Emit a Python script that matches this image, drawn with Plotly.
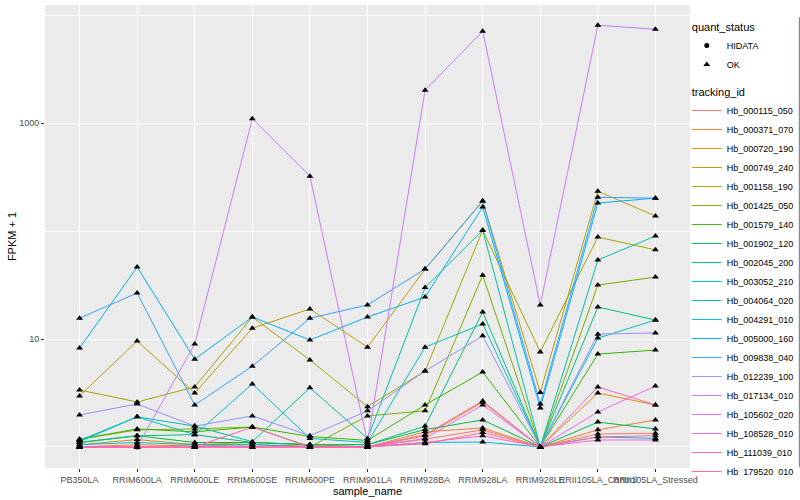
import plotly.graph_objects as go

samples = ["PB350LA", "RRIM600LA", "RRIM600LE", "RRIM600SE", "RRIM600PE", "RRIM901LA",
           "RRIM928BA", "RRIM928LA", "RRIM928LE", "RRII105LA_Control", "RRII105LA_Stressed"]

tracking_ids = ["Hb_000115_050", "Hb_000371_070", "Hb_000720_190", "Hb_000749_240",
                "Hb_001158_190", "Hb_001425_050", "Hb_001579_140", "Hb_001902_120",
                "Hb_002045_200", "Hb_003052_210", "Hb_004064_020", "Hb_004291_010",
                "Hb_005000_160", "Hb_009838_040", "Hb_012239_100", "Hb_017134_010",
                "Hb_105602_020", "Hb_108528_010", "Hb_111039_010", "Hb_179520_010"]

colors = ["#F8766D", "#EA8331", "#D89000", "#C09B00", "#A3A500", "#7CAE00", "#39B600",
          "#00BB4E", "#00BF7D", "#00C1A3", "#00BFC4", "#00BAE0", "#00B0F6", "#35A2FF",
          "#9590FF", "#C77CFF", "#E76BF3", "#FA62DB", "#FF62BC", "#FF6C91"]

# FPKM + 1 per sample (order of samples)
Hb_000115_050 = [1.0, 1.0, 1.0, 1.0, 1.0, 1.0, 1.18, 1.44, 1.0, 1.32, 1.34]
Hb_000371_070 = [1.0, 1.05, 1.02, 1.05, 1.02, 1.0, 1.38, 1.5, 1.0, 1.44, 1.78]
Hb_000720_190 = [1.05, 1.17, 1.05, 1.1, 1.05, 1.0, 1.27, 2.6, 1.0, 3.16, 2.45]
Hb_000749_240 = [2.97, 9.58, 3.16, 12.6, 19.0, 8.4, 44.5, 190, 3.2, 234, 138]
Hb_001158_190 = [3.37, 2.61, 3.6, 16.0, 6.4, 2.36, 5.06, 102, 7.6, 88, 67]
Hb_001425_050 = [1.18, 1.44, 1.47, 1.53, 1.0, 1.94, 2.16, 39, 1.0, 31.6, 37.5]
Hb_001579_140 = [1.18, 1.47, 1.38, 1.53, 1.25, 1.15, 2.45, 4.94, 1.0, 7.26, 7.9]
Hb_001902_120 = [1.1, 1.27, 1.1, 1.1, 1.05, 1.05, 1.45, 1.78, 1.0, 1.70, 1.47]
Hb_002045_200 = [1.1, 1.27, 1.3, 1.1, 1.05, 1.05, 1.56, 17.8, 1.0, 19.8, 15.0]
Hb_003052_210 = [1.15, 1.9, 1.56, 1.12, 3.53, 1.2, 30, 102, 1.0, 54, 90]
Hb_004064_020 = [1.12, 1.9, 1.3, 3.83, 1.2, 1.1, 8.4, 13.8, 1.0, 10.2, 15.0]
Hb_004291_010 = [1.05, 1.1, 1.05, 1.05, 1.0, 1.0, 1.1, 1.11, 1.0, 1.24, 1.2]
Hb_005000_160 = [8.25, 46.4, 6.5, 16.0, 9.8, 16.0, 24.5, 167, 2.3, 182, 202]
Hb_009838_040 = [15.6, 26.7, 2.45, 5.6, 15.6, 20.7, 44.5, 190, 2.5, 206, 202]
Hb_012239_100 = [1.98, 2.5, 1.56, 1.94, 1.27, 2.16, 5.06, 10.7, 1.0, 11.1, 11.4]
Hb_017134_010 = [1.0, 1.0, 9.0, 1100, 323, 1.1, 2020, 7110, 20.7, 8070, 7420]
Hb_105602_020 = [1.0, 1.0, 1.0, 1.0, 1.0, 1.0, 1.2, 2.45, 1.0, 2.11, 3.67]
Hb_108528_010 = [1.0, 1.0, 1.0, 1.0, 1.0, 1.0, 1.1, 1.27, 1.0, 1.16, 1.16]
Hb_111039_010 = [1.0, 1.0, 1.0, 1.53, 1.0, 1.0, 1.3, 2.67, 1.0, 3.6, 2.45]
Hb_179520_010 = [1.0, 1.0, 1.0, 1.0, 1.0, 1.0, 1.07, 1.36, 1.0, 1.24, 1.27]

values = [Hb_000115_050, Hb_000371_070, Hb_000720_190, Hb_000749_240, Hb_001158_190,
          Hb_001425_050, Hb_001579_140, Hb_001902_120, Hb_002045_200, Hb_003052_210,
          Hb_004064_020, Hb_004291_010, Hb_005000_160, Hb_009838_040, Hb_012239_100,
          Hb_017134_010, Hb_105602_020, Hb_108528_010, Hb_111039_010, Hb_179520_010]

# points with quant_status HIDATA (all others OK)
hidata_points = [("Hb_017134_010", "RRIM600LA")]

fig = go.Figure()

for tid, col, vals in zip(tracking_ids, colors, values):
    fig.add_trace(go.Scatter(
        x=samples, y=vals, mode="lines", name=tid,
        line=dict(color=col, width=1),
        legendgroup="tracking_id", legendrank=100,
        legendgrouptitle=dict(text="tracking_id") if tid == tracking_ids[0] else None,
        hoverinfo="skip"))

ok_x, ok_y, hi_x, hi_y = [], [], [], []
for tid, vals in zip(tracking_ids, values):
    for s, v in zip(samples, vals):
        if (tid, s) in hidata_points:
            hi_x.append(s); hi_y.append(v)
        else:
            ok_x.append(s); ok_y.append(v)

fig.add_trace(go.Scatter(
    x=hi_x, y=hi_y, mode="markers", name="HIDATA",
    marker=dict(symbol="circle", color="black", size=5),
    legendgroup="quant_status", legendrank=1,
    legendgrouptitle=dict(text="quant_status")))
fig.add_trace(go.Scatter(
    x=ok_x, y=ok_y, mode="markers", name="OK",
    marker=dict(symbol="triangle-up", color="black", size=6),
    legendgroup="quant_status", legendrank=2))

fig.update_layout(
    width=800, height=500,
    margin=dict(l=45, r=110, t=5, b=32, autoexpand=False),
    paper_bgcolor="white", plot_bgcolor="#EBEBEB",
    font=dict(family="Liberation Sans, Arial, sans-serif", size=9, color="#4D4D4D"),
    showlegend=True,
    legend=dict(x=0.995, xanchor="left", y=0.985, yanchor="top",
                font=dict(size=9, color="black"),
                grouptitlefont=dict(size=11, color="black"),
                tracegroupgap=8, itemwidth=30, bgcolor="rgba(0,0,0,0)"),
)

fig.update_xaxes(
    type="category", categoryorder="array", categoryarray=samples,
    range=[-0.6, len(samples) - 0.4], automargin=False,
    showgrid=True, gridcolor="white", gridwidth=1.1,
    ticks="outside", ticklen=3, tickcolor="#333333", tickangle=0,
    tickfont=dict(size=9, color="#4D4D4D"),
    title=dict(text="sample_name", font=dict(size=11, color="black"), standoff=2),
    zeroline=False, showline=False)

fig.update_yaxes(
    type="log", range=[-0.195, 4.095], automargin=False,
    tickmode="array", tickvals=[10, 1000], ticktext=["10", "1000"],
    showgrid=True, gridcolor="white", gridwidth=1.1,
    minor=dict(tickmode="array", tickvals=[1, 100, 10000], showgrid=True,
               gridcolor="white", gridwidth=0.5, ticks=""),
    ticks="outside", ticklen=3, tickcolor="#333333",
    tickfont=dict(size=9, color="#4D4D4D"),
    title=dict(text="FPKM + 1", font=dict(size=11, color="black"), standoff=0),
    zeroline=False, showline=False)

fig.write_html("out.html", config={"displayModeBar": False},
               post_script="document.body.style.margin='0px';")
